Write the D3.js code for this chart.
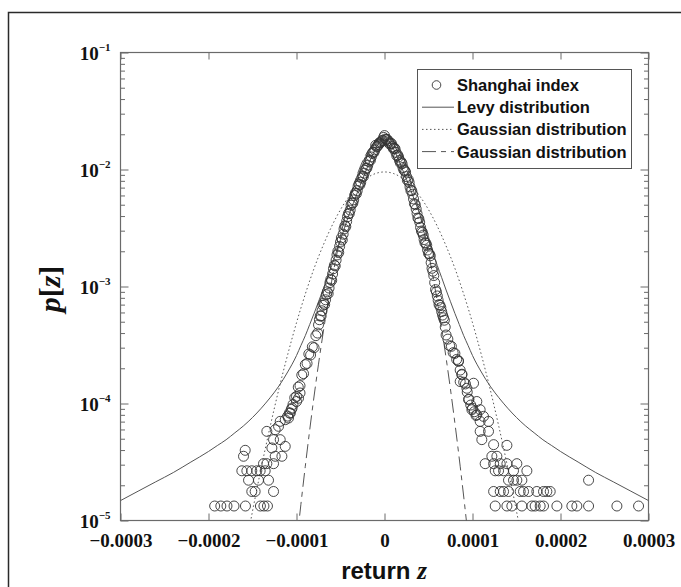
<!DOCTYPE html>
<html>
<head>
<meta charset="utf-8">
<script src="https://cdn.jsdelivr.net/npm/d3@7"></script>
<style>
  html, body { margin: 0; padding: 0; background: #fff; }
  svg { display: block; }
</style>
</head>
<body>
<svg id="chart" width="681" height="587"></svg>
<script>
// ---------------- data ----------------
const xTicks = [-0.0003, -0.0002, -0.0001, 0, 0.0001, 0.0002, 0.0003];
const xTickLabels = ["\u22120.0003", "\u22120.0002", "\u22120.0001", "0", "0.0001", "0.0002", "0.0003"];
const yTicks = [1e-5, 1e-4, 1e-3, 1e-2, 1e-1];
const yTickExponents = ["\u22125", "\u22124", "\u22123", "\u22122", "\u22121"];
const legendLabels = ["Shanghai index", "Levy distribution", "Gaussian distribution", "Gaussian distribution"];

// returns z are listed in units of 1e-6
const zUnit = 1e-6;

// Shanghai index histogram, central bins (left flank, even bins)
const leftCoreZ = [0, -2, -4, -6, -8, -10, -12, -14, -16, -18, -20, -22, -24, -26, -28, -30, -32, -34, -36, -38,
  -40, -42, -44, -46, -48, -50, -52, -54, -56, -58, -60, -62, -64, -66, -68, -70, -72, -74, -76, -78,
  -80, -82, -84, -86, -88, -90, -92, -94, -96, -98, -100, -102, -104, -106, -108, -110];
const leftCoreP = [0.0195, 0.0178, 0.0172, 0.0169, 0.0158, 0.0161, 0.0140, 0.0137, 0.0120, 0.0117,
  0.0103, 0.00985, 0.0087, 0.00845, 0.0074, 0.0072, 0.0062, 0.0060, 0.00515, 0.00495,
  0.0042, 0.00395, 0.00325, 0.0031, 0.0025, 0.0024, 0.00195, 0.00186, 0.0015, 0.00142,
  0.00113, 0.00108, 0.00087, 0.00085, 0.00070, 0.00069, 0.00056, 0.00052, 0.00040, 0.00038,
  0.00030, 0.000305, 0.00026, 0.000265, 0.00022, 0.000215, 0.00018, 0.000175, 0.000142, 0.000138,
  0.000115, 0.000112, 0.000098, 0.000089, 0.000083, 0.000078];

// left flank, odd bins
const leftOddZ = [-1, -3, -5, -7, -9, -11, -13, -15, -17, -19, -21, -23, -25, -27, -29, -31, -33, -35, -37,
  -39, -41, -43, -45, -47, -49, -51, -53, -55, -57, -59, -61, -63, -65, -67, -69, -71, -73, -75];
const leftOddP = [0.0188, 0.0176, 0.0168, 0.0163, 0.0156, 0.0147, 0.0141, 0.0128, 0.0121, 0.0109,
  0.0102, 0.0093, 0.0088, 0.0078, 0.0075, 0.0066, 0.0063, 0.0055, 0.0052, 0.0045,
  0.0042, 0.0036, 0.0033, 0.0028, 0.0026, 0.0022, 0.0020, 0.00168, 0.00152, 0.00128,
  0.00115, 0.00097, 0.00090, 0.00077, 0.00072, 0.00062, 0.00056, 0.00047];

// central bins (right flank, even bins)
const rightCoreZ = [1, 2, 4, 6, 8, 10, 12, 14, 16, 18, 20, 22, 24, 26, 28, 30, 32, 34, 36, 38,
  40, 42, 44, 46, 48, 50, 52, 54, 56, 58, 60, 62, 64, 66, 68, 70, 72, 74, 76, 78,
  80, 82, 84, 86, 88, 90, 92, 94, 96, 98, 100, 102, 104];
const rightCoreP = [0.0182, 0.0180, 0.0176, 0.0165, 0.0166, 0.0151, 0.0150, 0.0131, 0.0128, 0.0114,
  0.0112, 0.0099, 0.0095, 0.0081, 0.00775, 0.0066, 0.00615, 0.0051, 0.0046, 0.00385,
  0.00355, 0.00298, 0.00275, 0.00236, 0.00225, 0.00192, 0.00183, 0.00143, 0.00124, 0.00094,
  0.00083, 0.00070, 0.00066, 0.00057, 0.000515, 0.000385, 0.000355, 0.000312, 0.000308, 0.000272,
  0.000268, 0.000238, 0.000232, 0.000193, 0.000178, 0.000152, 0.000147, 0.000125, 0.000109, 0.000097,
  0.000091, 0.000085, 0.000079];

// right flank, odd bins
const rightOddZ = [3, 5, 7, 9, 11, 13, 15, 17, 19, 21, 23, 25, 27, 29, 31, 33, 35, 37, 39,
  41, 43, 45, 47, 49, 51, 53, 55, 57, 59, 61, 63, 65, 67, 69];
const rightOddP = [0.0181, 0.0170, 0.0168, 0.0157, 0.0153, 0.0140, 0.0133, 0.0120, 0.0116, 0.0104,
  0.0098, 0.0087, 0.0082, 0.0071, 0.0066, 0.0056, 0.0050, 0.0042, 0.0038, 0.0032,
  0.0029, 0.00252, 0.00235, 0.00205, 0.00190, 0.00160, 0.00135, 0.00108, 0.00090, 0.00076,
  0.00069, 0.00061, 0.00054, 0.00045];

// outer bins, negative returns
const leftTailZ = [-100, -105, -107, -96, -97.7, -112.8, -109.1, -118.5, -120.4, -124.2, -133.7,
  -126.1, -118.5, -112.8, -128.0, -158.3, -160.2, -124.2, -116.6, -137.5, -133.7, -126.1,
  -162.1, -156.4, -150.8, -145.1, -141.3, -135.6, -154.5, -143.2, -131.8, -150.8, -147.0, -126.1,
  -193, -186, -179, -171, -158, -141, -137, -133];
const leftTailP = [1.04e-4, 9.14e-5, 8.28e-5, 1.23e-4, 1.11e-4, 7.27e-5, 7.51e-5, 7.04e-5, 6.38e-5, 5.97e-5, 5.78e-5,
  4.91e-5, 4.91e-5, 4.30e-5, 4.17e-5, 3.98e-5, 3.54e-5, 3.54e-5, 3.54e-5, 3.06e-5, 3.06e-5, 3.06e-5,
  2.66e-5, 2.66e-5, 2.66e-5, 2.66e-5, 2.66e-5, 2.66e-5, 2.21e-5, 2.21e-5, 2.21e-5, 1.77e-5, 1.77e-5, 1.77e-5,
  1.33e-5, 1.33e-5, 1.33e-5, 1.33e-5, 1.33e-5, 1.33e-5, 1.33e-5, 1.33e-5];

// outer bins, positive returns
const rightTailZ = [84.1, 87.9, 86.0, 101.2, 93.6, 95.5, 104.9, 99.3, 108.7, 104.9, 112.5, 108.7, 118.2,
  108.7, 118.2, 110.6, 124.0, 139.1, 122.0, 127.7, 114.4, 124.0, 131.5, 139.1, 150.4,
  125.8, 129.6, 135.3, 146.6, 161.8, 140.9, 146.6, 150.4, 156.1, 231.9,
  124.0, 131.5, 135.3, 140.9, 154.2, 158.0, 163.7, 173.1, 180.7, 184.5, 188.3,
  125.8, 139.1, 144.7, 156.1, 167.5, 171.2, 176.9, 180.7, 195.9, 212.9, 218.6, 231.9, 264.1, 288.7];
const rightTailP = [2.29e-4, 1.76e-4, 1.54e-4, 1.49e-4, 1.35e-4, 1.08e-4, 1.04e-4, 8.85e-5, 8.85e-5, 8.02e-5, 7.76e-5, 7.03e-5, 7.03e-5,
  5.78e-5, 5.78e-5, 4.91e-5, 4.45e-5, 4.39e-5, 3.54e-5, 3.54e-5, 3.06e-5, 3.06e-5, 3.06e-5, 3.06e-5, 3.06e-5,
  2.66e-5, 2.66e-5, 2.66e-5, 2.66e-5, 2.66e-5, 2.21e-5, 2.21e-5, 2.21e-5, 2.21e-5, 2.21e-5,
  1.77e-5, 1.77e-5, 1.77e-5, 1.77e-5, 1.77e-5, 1.77e-5, 1.77e-5, 1.77e-5, 1.77e-5, 1.77e-5, 1.77e-5,
  1.33e-5, 1.33e-5, 1.33e-5, 1.33e-5, 1.33e-5, 1.33e-5, 1.33e-5, 1.33e-5, 1.33e-5, 1.33e-5, 1.33e-5, 1.33e-5, 1.33e-5, 1.33e-5];

// Levy distribution
const levyZ = [-300, -280, -260, -240, -220, -200, -190, -180, -170, -160, -150, -140, -130, -120, -110, -100,
  -95, -90, -85, -80, -75, -70, -65, -60, -55, -50, -45, -40, -35, -30, -25, -20, -15, -10, -5,
  0, 5, 10, 15, 20, 25, 30, 35, 40, 45, 50, 55, 60, 65, 70, 75, 80, 85, 90, 95,
  100, 110, 120, 130, 140, 150, 160, 170, 180, 190, 200, 220, 240, 260, 280, 300];
const levyP = [1.48e-5, 1.78e-5, 2.14e-5, 2.57e-5, 3.16e-5, 3.89e-5, 4.37e-5, 4.90e-5, 5.62e-5, 6.46e-5, 7.59e-5, 9.12e-5, 1.12e-4, 1.41e-4, 1.86e-4, 2.57e-4,
  3.13e-4, 3.80e-4, 4.73e-4, 5.89e-4, 7.41e-4, 9.33e-4, 1.19e-3, 1.51e-3, 1.95e-3, 2.51e-3, 3.24e-3, 4.17e-3, 5.25e-3, 6.61e-3, 8.22e-3, 1.02e-2, 1.26e-2, 1.51e-2, 1.74e-2,
  1.82e-2, 1.74e-2, 1.51e-2, 1.26e-2, 1.02e-2, 8.22e-3, 6.61e-3, 5.25e-3, 4.17e-3, 3.24e-3, 2.51e-3, 1.95e-3, 1.51e-3, 1.19e-3, 9.33e-4, 7.41e-4, 5.89e-4, 4.73e-4, 3.80e-4, 3.13e-4,
  2.57e-4, 1.86e-4, 1.41e-4, 1.12e-4, 9.12e-5, 7.59e-5, 6.46e-5, 5.62e-5, 4.90e-5, 4.37e-5, 3.89e-5, 3.16e-5, 2.57e-5, 2.14e-5, 1.78e-5, 1.48e-5];

// wide Gaussian (dotted)
const gaussWideZ = [-160, -150, -140, -130, -120, -110, -100, -90, -80, -70, -60, -50, -40, -30, -20, -10,
  0, 10, 20, 30, 40, 50, 60, 70, 80, 90, 100, 110, 120, 130, 140, 150, 160];
const gaussWideP = [4.78e-6, 1.20e-5, 2.84e-5, 6.32e-5, 1.33e-4, 2.62e-4, 4.90e-4, 8.61e-4, 1.43e-3, 2.22e-3, 3.27e-3, 4.54e-3, 5.93e-3, 7.29e-3, 8.46e-3, 9.25e-3,
  9.53e-3, 9.25e-3, 8.46e-3, 7.29e-3, 5.93e-3, 4.54e-3, 3.27e-3, 2.22e-3, 1.43e-3, 8.61e-4, 4.90e-4, 2.62e-4, 1.33e-4, 6.32e-5, 2.84e-5, 1.20e-5, 4.78e-6];

// narrow Gaussian (dashed)
const gaussNarrowZ = [-100, -95, -90, -85, -80, -75, -70, -65, -60, -55, -50, -40, -30, -20, -14, -6, -2,
  2, 10, 16, 26, 36, 46, 51, 56, 61, 66, 71, 76, 81, 86, 91, 96];
const gaussNarrowP = [6.21e-6, 1.374e-5, 2.91e-5, 5.93e-5, 1.159e-4, 2.17e-4, 3.90e-4, 6.71e-4, 1.111e-3, 1.762e-3, 2.68e-3, 5.48e-3, 9.48e-3, 1.39e-2, 1.614e-2, 1.795e-2, 1.82e-2,
  1.795e-2, 1.614e-2, 1.39e-2, 9.48e-3, 5.48e-3, 2.68e-3, 1.762e-3, 1.111e-3, 6.71e-4, 3.90e-4, 2.17e-4, 1.159e-4, 5.93e-5, 2.91e-5, 1.374e-5, 6.21e-6];

// ---------------- layout ----------------
const box = { left: 120.5, right: 648.5, top: 52.5, bottom: 520.5 };
const svg = d3.select("#chart");

const x = d3.scaleLinear().domain([-0.0003, 0.0003]).range([box.left, box.right]);
const y = d3.scaleLog().domain([1e-5, 1e-1]).range([box.bottom, box.top]);

const axisColor = "#6a6a6a";
const serif = "'Liberation Serif', 'Times New Roman', serif";
const sans = "'Liberation Sans', Arial, sans-serif";

// figure frame
svg.append("rect")
  .attr("x", 8.5).attr("y", 12.5).attr("width", 700).attr("height", 700)
  .attr("fill", "none").attr("stroke", "#2a2a2a").attr("stroke-width", 1.5);

// clip for the curves
svg.append("defs").append("clipPath").attr("id", "plotClip")
  .append("rect")
  .attr("x", box.left).attr("y", box.top)
  .attr("width", box.right - box.left).attr("height", box.bottom - box.top);

// ---------------- axes ----------------
function styleAxis(g) {
  g.select(".domain").remove();
  g.selectAll(".tick line").attr("stroke", axisColor).attr("stroke-width", 1);
}

const minorY = y.ticks().filter(v => !yTicks.some(t => Math.abs(t - v) / t < 1e-9));

// bottom
svg.append("g")
  .attr("transform", `translate(0,${box.bottom})`)
  .call(d3.axisBottom(x).tickValues(xTicks).tickSize(-7).tickPadding(13)
    .tickFormat((d, i) => xTickLabels[i]))
  .call(styleAxis)
  .call(g => g.selectAll(".tick text")
    .attr("font-family", serif).attr("font-weight", "bold")
    .attr("font-size", 19).attr("fill", "#111"));

// top
svg.append("g")
  .attr("transform", `translate(0,${box.top})`)
  .call(d3.axisTop(x).tickValues(xTicks).tickSize(-7).tickFormat(""))
  .call(styleAxis);

// left, major with power-of-ten labels
svg.append("g")
  .attr("transform", `translate(${box.left},0)`)
  .call(d3.axisLeft(y).tickValues(yTicks).tickSize(-8).tickFormat(""))
  .call(styleAxis)
  .call(g => g.selectAll(".tick").each(function (d, i) {
    const t = d3.select(this).append("text")
      .attr("x", -10).attr("y", 0)
      .attr("text-anchor", "end")
      .attr("font-family", serif).attr("font-weight", "bold").attr("fill", "#111");
    t.append("tspan").attr("font-size", 19).attr("dy", 6.5).text("10");
    t.append("tspan").attr("font-size", 11).attr("dy", -9).text(yTickExponents[i]);
  }));

// left minor
svg.append("g")
  .attr("transform", `translate(${box.left},0)`)
  .call(d3.axisLeft(y).tickValues(minorY).tickSize(-4.5).tickFormat(""))
  .call(styleAxis);

// right major + minor
svg.append("g")
  .attr("transform", `translate(${box.right},0)`)
  .call(d3.axisRight(y).tickValues(yTicks).tickSize(-8).tickFormat(""))
  .call(styleAxis);
svg.append("g")
  .attr("transform", `translate(${box.right},0)`)
  .call(d3.axisRight(y).tickValues(minorY).tickSize(-4.5).tickFormat(""))
  .call(styleAxis);

// plot frame
svg.append("rect")
  .attr("x", box.left).attr("y", box.top)
  .attr("width", box.right - box.left).attr("height", box.bottom - box.top)
  .attr("fill", "none").attr("stroke", axisColor).attr("stroke-width", 1.2);

// axis titles
const yTitle = svg.append("text")
  .attr("transform", `translate(60,289) rotate(-90)`)
  .attr("text-anchor", "middle")
  .attr("font-family", serif).attr("font-weight", "bold").attr("font-size", 30).attr("fill", "#111");
yTitle.append("tspan").attr("font-style", "italic").text("p");
yTitle.append("tspan").text("[");
yTitle.append("tspan").attr("font-style", "italic").text("z");
yTitle.append("tspan").text("]");

const xTitle = svg.append("text")
  .attr("x", 384).attr("y", 579)
  .attr("text-anchor", "middle").attr("fill", "#111");
xTitle.append("tspan").attr("font-family", sans).attr("font-weight", "bold").attr("font-size", 24).text("return ");
xTitle.append("tspan").attr("font-family", serif).attr("font-weight", "bold").attr("font-style", "italic").attr("font-size", 25).text("z");

// ---------------- curves ----------------
const zip = (zs, ps) => zs.map((z, i) => ({ z: z * zUnit, p: ps[i] }));
const line = d3.line().x(d => x(d.z)).y(d => y(d.p)).curve(d3.curveMonotoneX);

const curves = svg.append("g").attr("clip-path", "url(#plotClip)");
curves.append("path").datum(zip(levyZ, levyP))
  .attr("d", line).attr("fill", "none").attr("stroke", "#555").attr("stroke-width", 1);
curves.append("path").datum(zip(gaussWideZ, gaussWideP))
  .attr("d", line).attr("fill", "none").attr("stroke", "#555").attr("stroke-width", 1)
  .attr("stroke-dasharray", "1.5,2.5");
curves.append("path").datum(zip(gaussNarrowZ, gaussNarrowP))
  .attr("d", line).attr("fill", "none").attr("stroke", "#555").attr("stroke-width", 1)
  .attr("stroke-dasharray", "14,5,5,5");

// ---------------- histogram points ----------------
const points = [].concat(
  zip(leftCoreZ, leftCoreP), zip(leftOddZ, leftOddP),
  zip(rightCoreZ, rightCoreP), zip(rightOddZ, rightOddP),
  zip(leftTailZ, leftTailP), zip(rightTailZ, rightTailP));

svg.append("g").selectAll("circle").data(points).join("circle")
  .attr("cx", d => x(d.z)).attr("cy", d => y(d.p)).attr("r", 5)
  .attr("fill", "none").attr("stroke", "#333").attr("stroke-width", 0.9);

// ---------------- legend ----------------
const lg = { x: 417.5, y: 69.5, w: 214, h: 99, rowY: 85, step: 22.2 };
const legend = svg.append("g");
legend.append("rect").attr("x", lg.x).attr("y", lg.y).attr("width", lg.w).attr("height", lg.h)
  .attr("fill", "#fff").attr("stroke", "#555").attr("stroke-width", 1);

const sampleStyles = [null, "none", "1.5,2.5", "14,5,5,5"];
legendLabels.forEach((label, i) => {
  const cy = lg.rowY + i * lg.step;
  if (i === 0) {
    legend.append("circle").attr("cx", 436.5).attr("cy", cy).attr("r", 4.3)
      .attr("fill", "none").attr("stroke", "#333").attr("stroke-width", 0.9);
  } else {
    legend.append("line").attr("x1", 422).attr("x2", 454).attr("y1", cy).attr("y2", cy)
      .attr("stroke", "#555").attr("stroke-width", 1)
      .attr("stroke-dasharray", sampleStyles[i]);
  }
  legend.append("text").attr("x", 457).attr("y", cy).attr("dy", "0.36em")
    .attr("font-family", sans).attr("font-weight", "bold").attr("font-size", 16.5)
    .attr("fill", "#111").text(label);
});
</script>
</body>
</html>
